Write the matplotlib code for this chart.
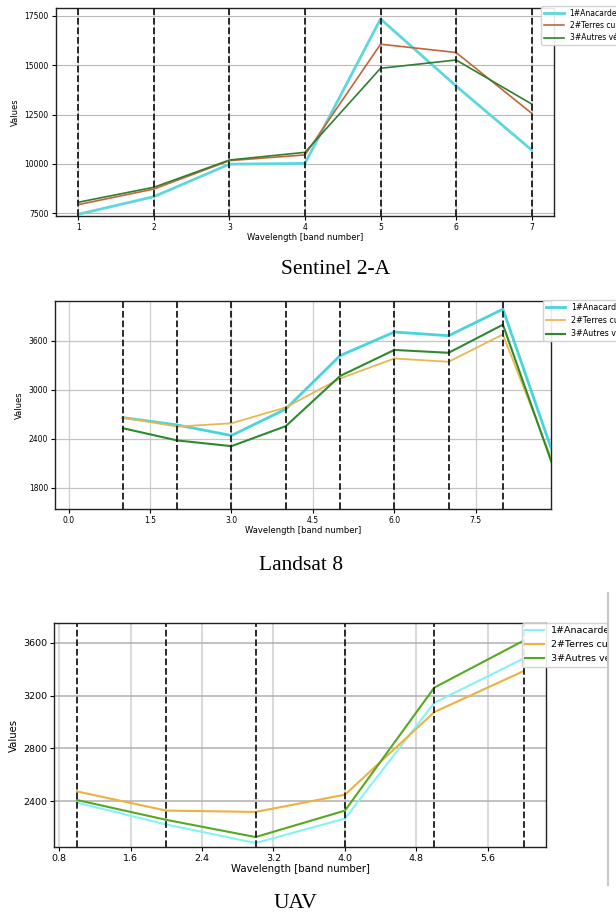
import matplotlib
matplotlib.use("Agg")
import matplotlib.pyplot as plt
from matplotlib.lines import Line2D
from matplotlib.patches import Rectangle

# ---------------- data ----------------
labels = ["1#Anacardes", "2#Terres cultivées", "3#Autres végétations"]

s2_bands = [1, 2, 3, 4, 5, 6, 7]
s2_anacarde = [7450, 8345, 9990, 10030, 17350, 13950, 10710]
s2_terres = [7940, 8730, 10170, 10460, 16070, 15650, 12570]
s2_autres = [8060, 8820, 10200, 10590, 14850, 15270, 13040]
s2_yticks = [7500, 10000, 12500, 15000, 17500]
s2_xticks = [1, 2, 3, 4, 5, 6, 7]

l8_bands = [1, 2, 3, 4, 5, 6, 7, 8, 9]
l8_anacarde = [2660, 2570, 2440, 2765, 3420, 3710, 3665, 3990, 2070]
l8_terres = [2660, 2550, 2590, 2785, 3140, 3385, 3345, 3680, 1975]
l8_autres = [2530, 2380, 2310, 2555, 3170, 3490, 3455, 3800, 1915]
l8_yticks = [1800, 2400, 3000, 3600]
l8_xticks = [0.0, 1.5, 3.0, 4.5, 6.0, 7.5]

uav_bands = [1, 2, 3, 4, 5, 6]
uav_anacarde = [2390, 2225, 2085, 2270, 3145, 3480]
uav_terres = [2475, 2330, 2320, 2450, 3075, 3385]
uav_autres = [2410, 2260, 2130, 2330, 3260, 3615]
uav_yticks = [2400, 2800, 3200, 3600]
uav_xticks = [0.8, 1.6, 2.4, 3.2, 4.0, 4.8, 5.6]

captions = ["Sentinel 2-A", "Landsat 8", "UAV"]

# ---------------- figure ----------------
W, H = 616, 917
fig = plt.figure(figsize=(W / 100, H / 100), dpi=100)
plt.rcParams['font.family'] = ['DejaVu Sans']


def px_axes(l, t, r, b):
    return fig.add_axes([l / W, 1 - b / H, (r - l) / W, (b - t) / H])


def fy(y):
    return 1 - y / H


def fx(x):
    return x / W


def make_panel(rect, bands, series, colors, lws, xticks, yticks, xlim, ylim,
               fs, grid_kw, vgrid_kw, leg_pos, leg_fs, leg_spacing, hlen):
    ax = px_axes(*rect)
    for ys, c, lw, lab in zip(series, colors, lws, labels):
        ax.plot(bands, ys, color=c, lw=lw, label=lab, zorder=3)
    for b in bands:
        ax.axvline(b, color='#1a1a1a', ls='--', lw=1.3, zorder=4)
    ax.set_xticks(xticks)
    ax.set_yticks(yticks)
    ax.set_xlim(*xlim)
    ax.set_ylim(*ylim)
    ax.yaxis.grid(True, **grid_kw)
    ax.xaxis.grid(True, **vgrid_kw)
    ax.set_axisbelow(True)
    ax.tick_params(labelsize=fs, length=3, width=0.8, pad=2)
    ax.set_xlabel("Wavelength [band number]", fontsize=fs + 0.5, labelpad=1)
    ax.set_ylabel("Values", fontsize=fs + 0.5, labelpad=3)
    for sp in ax.spines.values():
        sp.set_color('#222222')
        sp.set_linewidth(1.0)
    ax.legend(loc='upper left', bbox_to_anchor=(fx(leg_pos[0]), fy(leg_pos[1])),
              bbox_transform=fig.transFigure, fontsize=leg_fs,
              borderaxespad=0, borderpad=0.35, handlelength=hlen,
              handletextpad=0.7, labelspacing=leg_spacing, fancybox=True,
              framealpha=0.9, edgecolor='#d0d0d0')
    return ax


# Panel 1 : Sentinel 2-A
make_panel((55.7, 8.3, 554.3, 216), s2_bands, [s2_anacarde, s2_terres, s2_autres],
           ['#5ed6de', '#c2663a', '#2f7f2f'], [2.0, 1.2, 1.2],
           s2_xticks, s2_yticks, (0.7, 7.3), (7363, 17890), 5.5,
           dict(color='#b8b8b8', lw=0.8), dict(color='#c8c8c8', lw=0.8),
           (541, 6), 5.5, 0.4, 2.7)

# Panel 2 : Landsat 8
make_panel((55, 300.7, 550.7, 509), l8_bands, [l8_anacarde, l8_terres, l8_autres],
           ['#48d4dc', '#e8b850', '#2e8a2e'], [2.0, 1.3, 1.5],
           l8_xticks, l8_yticks, (-0.25, 8.88), (1539, 4094), 5.5,
           dict(color='#c4c4c4', lw=0.9), dict(color='#cfcfcf', lw=0.9),
           (543, 300), 5.8, 0.5, 2.4)

# Panel 3 : UAV
make_panel((54.3, 623.3, 546, 846.7), uav_bands, [uav_anacarde, uav_terres, uav_autres],
           ['#86f2f8', '#eeb040', '#55aa22'], [1.5, 1.5, 1.5],
           uav_xticks, uav_yticks, (0.747, 6.25), (2057, 3746), 6.8,
           dict(color='#b0b0b0', lw=1.1), dict(color='#dadada', lw=1.5),
           (522, 623), 6.8, 0.5, 2.0)

# captions
cap_pos = [(336, 270), (301, 565), (295, 903)]
for txt, (cx, cy) in zip(captions, cap_pos):
    fig.text(fx(cx), fy(cy), txt, ha='center', va='center',
             family=['Liberation Serif', 'DejaVu Serif'], fontsize=15.5)

# right-hand clipping strip of the UAV picture
fig.add_artist(Rectangle((fx(608), fy(917)), fx(8), (917 - 590) / H,
                         transform=fig.transFigure, facecolor='white',
                         edgecolor='none', zorder=10))
fig.add_artist(Line2D([fx(608), fx(608)], [fy(593), fy(885)],
                      transform=fig.transFigure, color='#c8c8c8', lw=1.5, zorder=11))

fig.savefig("out.png", dpi=100)
